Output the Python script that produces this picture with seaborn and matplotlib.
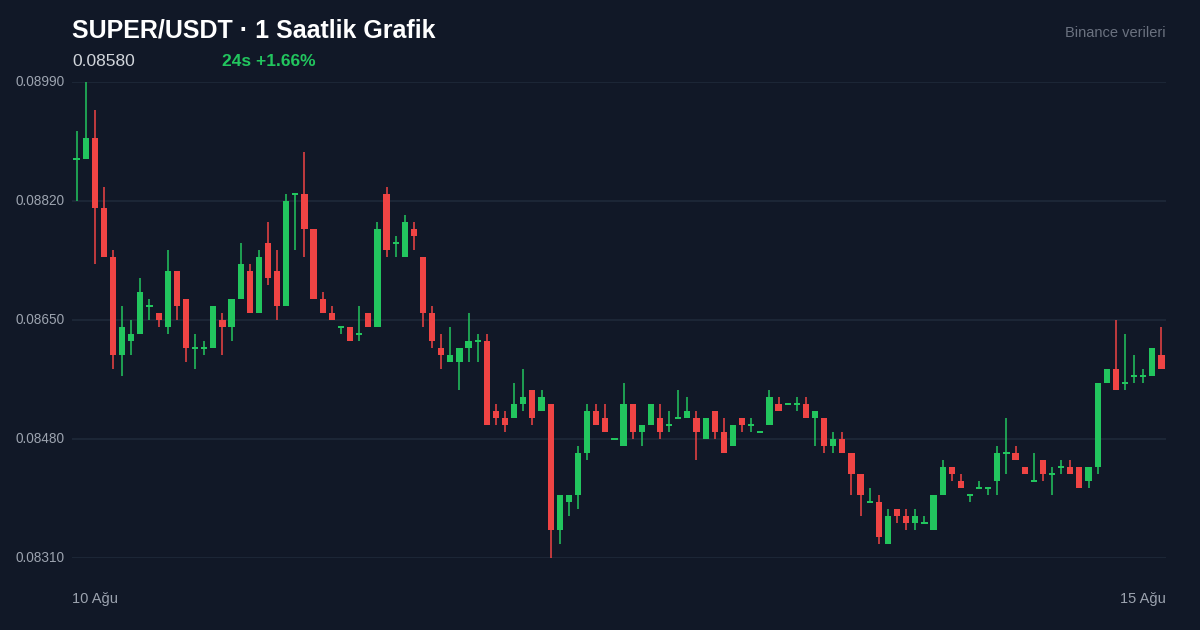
import numpy as np
import matplotlib
matplotlib.use("Agg")
import matplotlib.pyplot as plt
import seaborn as sns

# prices in units of 0.0001
opens = [888,888,891,881,874,860,862,863,867,866,864,872,868,861,861,861,865,864,868,872,
         866,876,872,867,883,883,878,868,866,864,864,863,866,864,883,876,874,878,874,866,
         861,859,859,861,862,862,852,851,851,853,855,852,853,835,839,840,846,852,851,848,
         847,853,849,850,851,850,851,851,851,848,852,849,847,851,850,849,850,853,853,853,
         853,851,851,847,848,846,843,839,839,833,838,837,836,836,835,840,844,842,840,841,
         841,842,846,846,844,842,845,843,844,844,844,842,844,856,858,856,857,857,857,860]
closes = [888,891,881,874,860,864,863,869,867,865,872,867,861,861,861,867,864,868,873,866,
          874,871,867,882,883,878,868,866,865,864,862,863,864,878,875,876,879,877,866,862,
          860,860,861,862,862,850,851,850,853,854,851,854,835,840,840,846,852,850,849,848,
          853,849,850,853,849,850,851,852,849,851,849,846,850,850,850,849,854,852,853,853,
          851,852,847,848,846,843,840,839,834,837,837,836,837,836,840,844,843,841,840,841,
          841,846,846,845,843,842,843,843,844,843,841,844,856,858,855,856,857,857,861,858]
highs = [892,899,895,884,875,867,865,871,868,866,875,872,868,863,862,867,866,868,876,873,
         875,879,875,883,883,889,878,869,867,864,864,867,866,879,884,877,880,879,874,867,
         863,864,861,866,863,863,853,852,856,858,855,855,853,840,840,847,853,853,853,848,
         856,853,850,853,853,852,855,854,852,851,852,851,850,851,851,849,855,854,853,854,
         854,852,851,849,849,846,843,841,840,838,838,838,838,837,840,845,844,843,840,842,
         841,847,851,847,844,846,845,844,845,845,844,844,844,856,865,863,860,858,858,864]
lows = [882,888,873,874,858,857,860,863,865,864,863,865,859,858,860,861,860,862,868,866,
        866,870,865,867,875,874,868,866,865,863,862,862,864,864,874,874,874,875,864,861,
        858,859,855,859,859,850,850,849,851,852,850,852,831,833,837,838,845,850,849,848,
        847,848,847,850,848,849,851,851,845,848,848,846,847,849,849,849,850,852,853,852,
        851,847,846,846,846,840,837,839,833,833,836,835,835,836,835,840,842,841,839,841,
        840,840,843,845,843,842,842,840,843,843,841,841,843,856,855,855,856,856,857,858]
y_ticks = [0.08990, 0.08820, 0.08650, 0.08480, 0.08310]
x_labels = ["10 Ağu", "15 Ağu"]

o = np.array(opens) / 1e4
c = np.array(closes) / 1e4
h = np.array(highs) / 1e4
l = np.array(lows) / 1e4
idx = np.arange(len(o))

BG = "#111827"
GREEN = "#22c55e"
RED = "#ef4444"

sns.set_theme(style="dark")
plt.rcParams["font.family"] = ["Liberation Sans", "DejaVu Sans"]

fig = plt.figure(figsize=(12, 6.3), dpi=100, facecolor=BG)
ax = fig.add_axes([0.06, 1 - 558 / 630, 1166 / 1200 - 0.06, (558 - 82) / 630])
ax.set_facecolor(BG)

up = c >= o
colors = np.where(up, GREEN, RED)
ax.vlines(idx, l, h, colors=colors, linewidth=1.1, zorder=3)
flat = np.abs(c - o) < 1e-9
min_h = 0.000028
body_bottom = np.minimum(o, c) - np.where(flat, min_h / 2, 0)
body_h = np.where(flat, min_h, np.abs(c - o))
ax.bar(idx, body_h, bottom=body_bottom, width=0.68, color=colors, linewidth=0, zorder=4)

ax.set_xlim(-0.5, len(o) - 0.5)
ax.set_ylim(0.08310, 0.08990)
ax.set_yticks(y_ticks)
ax.set_yticklabels([])
ax.set_xticks([])
ax.tick_params(length=0)
ax.grid(axis="y", color="#1f2a3a", linewidth=1.2)
ax.grid(axis="x", visible=False)
for s in ax.spines.values():
    s.set_visible(False)

for t in y_ticks:
    yf = 1 - (82 + (0.08990 - t) / 0.0068 * 476) / 630
    fig.text(15 / 1200, yf, f"{t:.5f}", color="#9ca3af", fontsize=9.8, va="center", ha="left")

fig.text(72 / 1200, 1 - 599 / 630, x_labels[0], color="#9ca3af", fontsize=10.5, va="center", ha="left")
fig.text(1166 / 1200, 1 - 599 / 630, x_labels[1], color="#9ca3af", fontsize=10.5, va="center", ha="right")

fig.text(72 / 1200, 1 - 30 / 630, "SUPER/USDT · 1 Saatlik Grafik", color="white",
         fontsize=18, fontweight="bold", va="center", ha="left")
fig.text(72 / 1200, 1 - 61 / 630, "0.08580", color="#d1d5db", fontsize=12.5, va="center", ha="left")
fig.text(222 / 1200, 1 - 61 / 630, "24s +1.66%", color=GREEN, fontsize=12.5,
         fontweight="bold", va="center", ha="left")
fig.text(1166 / 1200, 1 - 33 / 630, "Binance verileri", color="#6b7280", fontsize=10.5,
         va="center", ha="right")

fig.savefig("out.png", dpi=100, facecolor=BG)
